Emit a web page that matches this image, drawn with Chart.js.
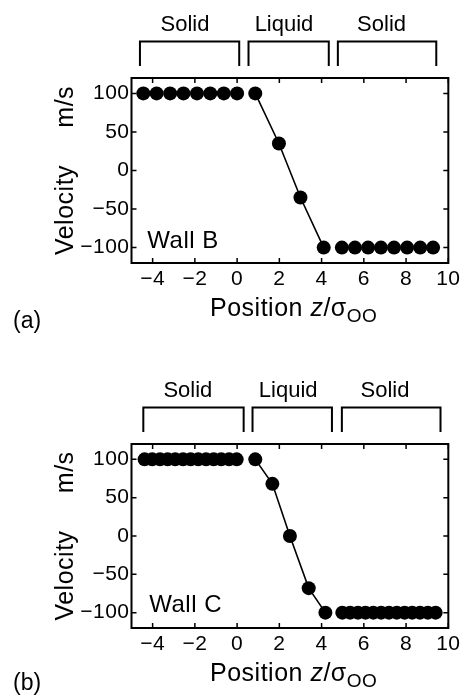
<!DOCTYPE html>
<html>
<head>
<meta charset="utf-8">
<script src="https://cdn.jsdelivr.net/npm/chart.js@4.4.1/dist/chart.umd.min.js"></script>
<style>
  html, body { margin: 0; padding: 0; background: #fff; }
  canvas { display: block; }
</style>
</head>
<body>
<canvas id="grafico-a" width="464" height="366"></canvas>
<canvas id="grafico-b" width="464" height="332"></canvas>
<script>
// --- DATOS: posición z/σOO y velocidad (m/s) ---
const solidoIzqA = [-4.44, -3.81, -3.17, -2.54, -1.9, -1.27, -0.63, 0];
const liquidoXA = [0.86, 1.98, 3.0, 4.1];
const liquidoVA = [100, 35, -35, -100];
const solidoDerA = [4.96, 5.58, 6.2, 6.81, 7.43, 8.05, 8.67, 9.28];

const solidoIzqB = [-4.38, -4.02, -3.65, -3.29, -2.93, -2.56, -2.2, -1.84, -1.47, -1.11, -0.75, -0.38, -0.02];
const liquidoXB = [0.86, 1.67, 2.5, 3.39, 4.18];
const liquidoVB = [100, 68, 0, -68, -100];
const solidoDerB = [4.98, 5.35, 5.72, 6.08, 6.45, 6.82, 7.19, 7.56, 7.93, 8.29, 8.66, 9.03, 9.4];

const velSolidoIzq = 100;
const velSolidoDer = -100;

const ticksX = [-4, -2, 0, 2, 4, 6, 8, 10];
const ticksY = [-100, -50, 0, 50, 100];

// Fases y tramos de los corchetes (en unidades de z)
const fases = ['Solid', 'Liquid', 'Solid'];
const tramosA = [[-4.6, 0.1], [0.54, 4.34], [4.77, 9.43]];
const tramosB = [[-4.44, 0.31], [0.73, 4.49], [4.96, 9.63]];
const centrosFaseA = [-2.47, 2.22, 6.84];
const centrosFaseB = [-2.33, 2.42, 7.0];

const fuente = '"Liberation Sans", Arial, sans-serif';
const menos = v => String(v).replace('-', '\u2212');

// Marco, marcas hacia adentro, corchetes y textos
const marcoPlugin = {
    id: 'marco',
    beforeDraw(chart) {
        // un poco de espaciado en ejes y títulos
        chart.ctx.letterSpacing = '0.5px';
    },
    afterDraw(chart, args, opts) {
        const ctx = chart.ctx;
        const { left, right, top, bottom } = chart.chartArea;
        const sx = chart.scales.x;
        const sy = chart.scales.y;
        ctx.save();
        ctx.strokeStyle = '#000';
        ctx.fillStyle = '#000';

        ctx.lineWidth = 2;
        ctx.strokeRect(left, top, right - left, bottom - top);

        ctx.lineWidth = 1.5;
        ctx.beginPath();
        ticksX.forEach(v => {
            const px = sx.getPixelForValue(v);
            ctx.moveTo(px, bottom); ctx.lineTo(px, bottom - 5);
            ctx.moveTo(px, top); ctx.lineTo(px, top + 5);
        });
        ticksY.forEach(v => {
            const py = sy.getPixelForValue(v);
            ctx.moveTo(left, py); ctx.lineTo(left + 5, py);
            ctx.moveTo(right, py); ctx.lineTo(right - 5, py);
        });
        ctx.stroke();

        // corchetes de fases
        ctx.lineWidth = 2;
        const yLinea = top - 36.5;
        const yPata = top - 12;
        opts.tramos.forEach(([a, b]) => {
            const x0 = sx.getPixelForValue(a);
            const x1 = sx.getPixelForValue(b);
            ctx.beginPath();
            ctx.moveTo(x0, yPata);
            ctx.lineTo(x0, yLinea);
            ctx.lineTo(x1, yLinea);
            ctx.lineTo(x1, yPata);
            ctx.stroke();
        });
        ctx.font = '22px ' + fuente;
        ctx.letterSpacing = '0px';
        ctx.textAlign = 'center';
        ctx.textBaseline = 'alphabetic';
        fases.forEach((txt, i) => {
            ctx.fillText(txt, sx.getPixelForValue(opts.centros[i]), top - 47.5);
        });

        // nombre de la pared
        ctx.textAlign = 'left';
        ctx.letterSpacing = '0.5px';
        ctx.font = '24px ' + fuente;
        ctx.fillText(opts.muro, sx.getPixelForValue(opts.muroX), sy.getPixelForValue(opts.muroY));

        // título del eje x con subíndice
        const yTit = bottom + 53;
        const partes = [
            { t: 'Position ', f: '25px ' + fuente, dy: 0 },
            { t: 'z', f: 'italic 25px ' + fuente, dy: 0 },
            { t: '/\u03c3', f: '25px ' + fuente, dy: 0 },
            { t: 'OO', f: '19px ' + fuente, dy: 6 }
        ];
        let xt = left + 78.5;
        partes.forEach(p => {
            ctx.font = p.f;
            ctx.fillText(p.t, xt, yTit + p.dy);
            xt += ctx.measureText(p.t).width;
        });

        // letra del panel
        ctx.letterSpacing = '0px';
        ctx.font = '23px ' + fuente;
        ctx.fillText(opts.letra, 13, opts.letraY);
        ctx.restore();
    }
};

function crearGrafico(id, izq, liqX, liqV, der, cfg) {
    const ctx = document.getElementById(id).getContext('2d');
    const puntos = { backgroundColor: '#000', borderColor: '#000', pointBackgroundColor: '#000', pointBorderWidth: 0, clip: false };
    return new Chart(ctx, {
        type: 'scatter',
        data: {
            datasets: [
                { ...puntos, data: izq.map(x => ({ x, y: velSolidoIzq })) },
                { ...puntos, data: liqX.map((x, i) => ({ x, y: liqV[i] })), showLine: true, borderWidth: 1.6 },
                { ...puntos, data: der.map(x => ({ x, y: velSolidoDer })) }
            ]
        },
        options: {
            responsive: false,
            animation: false,
            devicePixelRatio: 1,
            layout: { padding: { top: 78, right: 13.5, left: 0, bottom: 0 } },
            elements: { point: { radius: 7, hoverRadius: 7 } },
            plugins: { legend: { display: false }, tooltip: { enabled: false }, marco: cfg },
            scales: {
                x: {
                    type: 'linear', min: -5, max: 10,
                    afterBuildTicks: s => { s.ticks = ticksX.map(v => ({ value: v })); },
                    afterFit: s => { s.height = cfg.altoX; },
                    grid: { display: false, drawTicks: false },
                    border: { display: false },
                    ticks: { color: '#000', font: { family: fuente, size: 21 }, padding: 4, callback: menos }
                },
                y: {
                    type: 'linear', min: -120, max: 120,
                    afterBuildTicks: s => { s.ticks = ticksY.map(v => ({ value: v })); },
                    afterFit: s => { s.width = 131.5; },
                    grid: { display: false, drawTicks: false },
                    border: { display: false },
                    ticks: { color: '#000', font: { family: fuente, size: 21 }, padding: 2, callback: menos },
                    title: {
                        display: true, text: 'Velocity     m/s', color: '#000',
                        font: { family: fuente, size: 25 }, padding: { top: 51, bottom: 0 }
                    }
                }
            }
        },
        plugins: [marcoPlugin]
    });
}

crearGrafico('grafico-a', solidoIzqA, liquidoXA, liquidoVA, solidoDerA, {
    tramos: tramosA, centros: centrosFaseA, muro: 'Wall B', muroX: -4.25, muroY: -101,
    letra: '(a)', letraY: 328, altoX: 103
});
crearGrafico('grafico-b', solidoIzqB, liquidoXB, liquidoVB, solidoDerB, {
    tramos: tramosB, centros: centrosFaseB, muro: 'Wall C', muroX: -4.16, muroY: -99,
    letra: '(b)', letraY: 324, altoX: 70
});
</script>
</body>
</html>
